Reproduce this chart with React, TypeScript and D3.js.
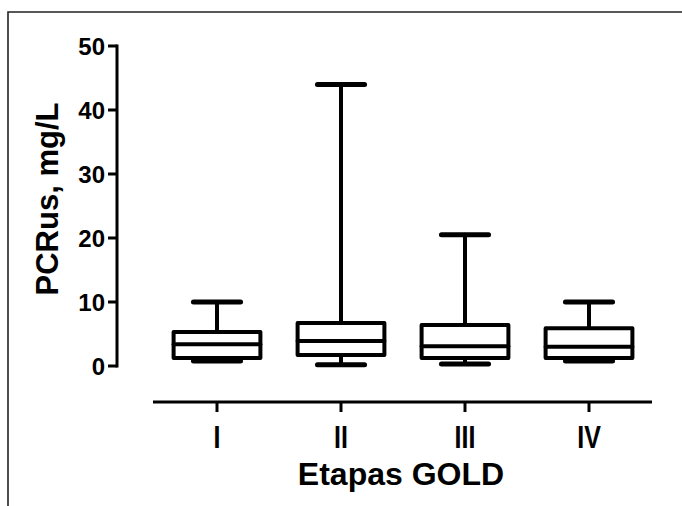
import { useEffect, useRef } from 'react';
import * as d3 from 'd3';

const categories = ['I', 'II', 'III', 'IV'];
const minValues = [0.8, 0.2, 0.3, 0.8];
const q1Values = [1.25, 1.7, 1.25, 1.25];
const medianValues = [3.4, 3.9, 3.1, 3.0];
const q3Values = [5.3, 6.7, 6.4, 5.9];
const maxValues = [10, 44, 20.5, 10];
const yTicks = [0, 10, 20, 30, 40, 50];

export default function App() {
  const svgRef = useRef<SVGSVGElement>(null);

  useEffect(() => {
    const svg = d3.select(svgRef.current);
    svg.selectAll('*').remove();

    const font = '"Liberation Sans", Arial, sans-serif';
    const x = d3.scalePoint().domain(categories).range([155, 651]).padding(0.5);
    const y = d3.scaleLinear().domain([0, 50]).range([366, 46]);
    const step = x.step();
    const boxW = step * 0.7;
    const capW = step * 0.38;

    // frame
    svg.append('path')
      .attr('d', 'M8,506 L8,12 L682,12')
      .attr('fill', 'none')
      .attr('stroke', '#222')
      .attr('stroke-width', 1.6);

    // y axis
    const yAxis = svg.append('g');
    yAxis.append('line')
      .attr('x1', 117).attr('x2', 117)
      .attr('y1', y(50) - 1.5).attr('y2', y(0) + 1.5)
      .attr('stroke', '#000').attr('stroke-width', 3);
    yTicks.forEach(t => {
      yAxis.append('line')
        .attr('x1', 108).attr('x2', 117)
        .attr('y1', y(t)).attr('y2', y(t))
        .attr('stroke', '#000').attr('stroke-width', 3);
      yAxis.append('text')
        .attr('x', 105).attr('y', y(t))
        .attr('dy', '0.36em')
        .attr('text-anchor', 'end')
        .style('font-family', font)
        .style('font-weight', 'bold')
        .style('font-size', '24px')
        .text(t);
    });

    // x axis
    const [r0, r1] = x.range();
    const xAxis = svg.append('g');
    xAxis.append('line')
      .attr('x1', r0 - 2).attr('x2', r1 + 1)
      .attr('y1', 402).attr('y2', 402)
      .attr('stroke', '#000').attr('stroke-width', 3);
    categories.forEach(c => {
      const cx = x(c)!;
      xAxis.append('line')
        .attr('x1', cx).attr('x2', cx)
        .attr('y1', 402).attr('y2', 412)
        .attr('stroke', '#000').attr('stroke-width', 3);
      xAxis.append('text')
        .attr('transform', `translate(${cx},448) scale(0.78,1)`)
        .attr('text-anchor', 'middle')
        .style('font-family', font)
        .style('font-weight', 'bold')
        .style('font-size', '32px')
        .text(c);
    });

    // boxes
    categories.forEach((c, i) => {
      const cx = x(c)!;
      const g = svg.append('g')
        .attr('stroke', '#000')
        .attr('stroke-width', 4)
        .attr('stroke-linecap', 'round')
        .attr('stroke-linejoin', 'round')
        .attr('fill', 'none');
      // whiskers
      g.append('line')
        .attr('x1', cx).attr('x2', cx)
        .attr('y1', y(q3Values[i])).attr('y2', y(maxValues[i]));
      g.append('line')
        .attr('x1', cx).attr('x2', cx)
        .attr('y1', y(q1Values[i])).attr('y2', y(minValues[i]));
      g.append('line')
        .attr('x1', cx - capW / 2).attr('x2', cx + capW / 2)
        .attr('y1', y(maxValues[i])).attr('y2', y(maxValues[i]))
        .attr('stroke-width', 5);
      g.append('line')
        .attr('x1', cx - capW / 2).attr('x2', cx + capW / 2)
        .attr('y1', y(minValues[i])).attr('y2', y(minValues[i]))
        .attr('stroke-width', 5);
      // box
      g.append('rect')
        .attr('x', cx - boxW / 2)
        .attr('y', y(q3Values[i]))
        .attr('width', boxW)
        .attr('height', y(q1Values[i]) - y(q3Values[i]))
        .attr('fill', '#fff');
      g.append('line')
        .attr('x1', cx - boxW / 2).attr('x2', cx + boxW / 2)
        .attr('y1', y(medianValues[i])).attr('y2', y(medianValues[i]));
    });

    // axis titles
    svg.append('text')
      .attr('transform', 'translate(58,199) rotate(-90)')
      .attr('text-anchor', 'middle')
      .style('font-family', font)
      .style('font-weight', 'bold')
      .style('font-size', '31px')
      .text('PCRus, mg/L');

    svg.append('text')
      .attr('x', 401).attr('y', 485)
      .attr('text-anchor', 'middle')
      .style('font-family', font)
      .style('font-weight', 'bold')
      .style('font-size', '32px')
      .text('Etapas GOLD');
  }, []);

  return (
    <div style={{ position: 'fixed', left: 0, top: 0, width: 682, height: 506, background: '#fff' }}>
      <svg ref={svgRef} width={682} height={506}></svg>
    </div>
  );
}
